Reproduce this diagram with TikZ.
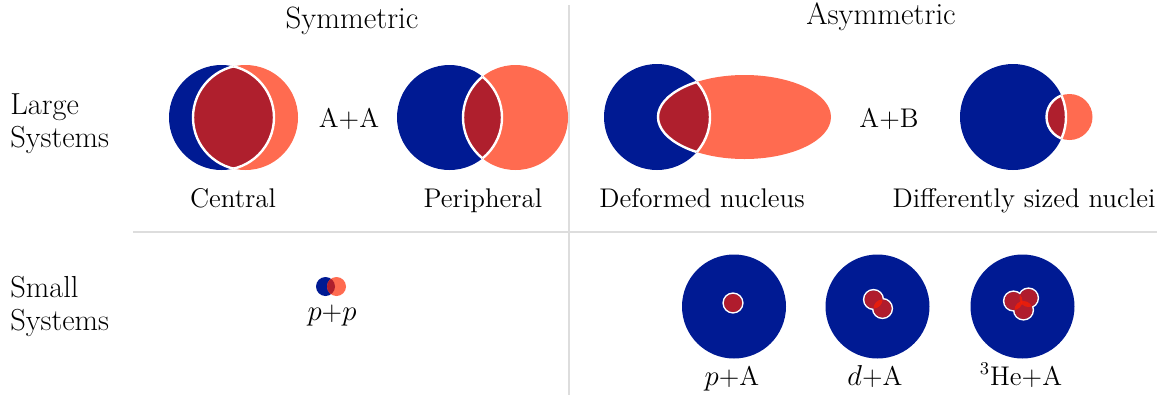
\documentclass[tikz,border=0pt]{standalone}
\usepackage{tikz}
\definecolor{nucblue}{RGB}{0,26,147}
\definecolor{nucsalmon}{RGB}{255,107,80}
\definecolor{lensred}{RGB}{175,31,45}
\definecolor{nucred}{RGB}{255,30,0}
\definecolor{gridgray}{RGB}{221,221,221}
% two colliding nuclei with their overlap region
\newcommand{\pairlens}[4]{%
  \fill[nucblue] #1 circle[radius=#2];
  \fill[nucsalmon] #3 circle[radius=#4];
  \begin{scope}\clip #1 circle[radius=#2];
    \fill[lensred] #3 circle[radius=#4];
    \draw[lens edge] #3 circle[radius=#4];
  \end{scope}
  \begin{scope}\clip #3 circle[radius=#4];
    \draw[lens edge] #1 circle[radius=#2];
  \end{scope}}
% projectile nucleons on top of a large target
\newcommand{\nucleons}[1]{%
  \foreach \c in {#1} \draw[white,line width=1.6pt] \c circle[radius=9];
  \foreach \c in {#1} \fill[nucblue] \c circle[radius=9];
  \foreach \c in {#1} \fill[nucred,fill opacity=0.69] \c circle[radius=9];}
\begin{document}
\begin{tikzpicture}[x=0.5pt,y=-0.5pt,
head/.style={font=\fontsize{15.4}{17}\selectfont,anchor=base},
side/.style={font=\fontsize{15.2}{16.5}\selectfont,align=left,anchor=north west,inner sep=0pt},
tag/.style={font=\fontsize{13.5}{15}\selectfont,anchor=base},
grid line/.style={draw=gridgray,line width=0.75pt},
lens edge/.style={draw=white,line width=1.2pt}]
\useasboundingbox (0,0) rectangle (1168,398);
% grid
\coordinate (vtop) at (569,5);
\coordinate (vbot) at (569,395);
\coordinate (hleft) at (133,232);
\coordinate (hright) at (1157,232);
\draw[grid line] (vtop) -- (vbot);
\draw[grid line] (hleft) -- (hright);
% large systems
\pairlens{(221.5,117.5)}{52.5}{(245.5,117.5)}{52.5}
\pairlens{(449.5,117.5)}{52.5}{(515.5,117.5)}{52.5}
\fill[nucblue] (657,117) circle[radius=53];
\fill[nucsalmon] (744.5,117) ellipse[x radius=86.5,y radius=42];
\begin{scope}
\clip (657,117) circle[radius=53];
\fill[lensred] (744.5,117) ellipse[x radius=86.5,y radius=42];
\draw[lens edge] (744.5,117) ellipse[x radius=86.5,y radius=42];
\end{scope}
\begin{scope}
\clip (744.5,117) ellipse[x radius=86.5,y radius=42];
\draw[lens edge] (657,117) circle[radius=53];
\end{scope}
\pairlens{(1013,117)}{53}{(1069.5,117)}{23}
% small systems
\fill[nucblue] (325.5,286.5) circle[radius=9.5];
\fill[nucsalmon] (336.5,286.5) circle[radius=9.5];
\begin{scope}
\clip (325.5,286.5) circle[radius=9.5];
\fill[lensred] (336.5,286.5) circle[radius=9.5];
\end{scope}
\foreach \x in {734,877.5,1022.5}
  \fill[nucblue] (\x,306.5) circle[radius=52];
\nucleons{(733,303)}
\nucleons{(873.5,299.5),(882.5,308.5)}
\nucleons{(1013.5,301),(1028.5,298),(1023.5,310)}
% labels
\node[head] (symhead) at (352,28) {Symmetric};
\node[head] (asymhead) at (881,24) {Asymmetric};
\node[side] (largelab) at (10,93) {Large\\Systems};
\node[side] (smalllab) at (10,276) {Small\\Systems};
\node[tag] (aa) at (349,127) {A+A};
\node[tag] (ab) at (889,127) {A+B};
\node[tag] (central) at (233,207) {Central};
\node[tag] (periph) at (483,207) {Peripheral};
\node[tag] (deformed) at (702,207) {Deformed nucleus};
\node[tag] (diffsize) at (1024,207) {Differently sized nuclei};
\node[tag] (pp) at (332,320) {$p$+$p$};
\node[tag] (pa) at (732,385) {$p$+A};
\node[tag] (da) at (875,385) {$d$+A};
\node[tag] (hea) at (1021,385) {$^3$He+A};
\end{tikzpicture}
\end{document}
